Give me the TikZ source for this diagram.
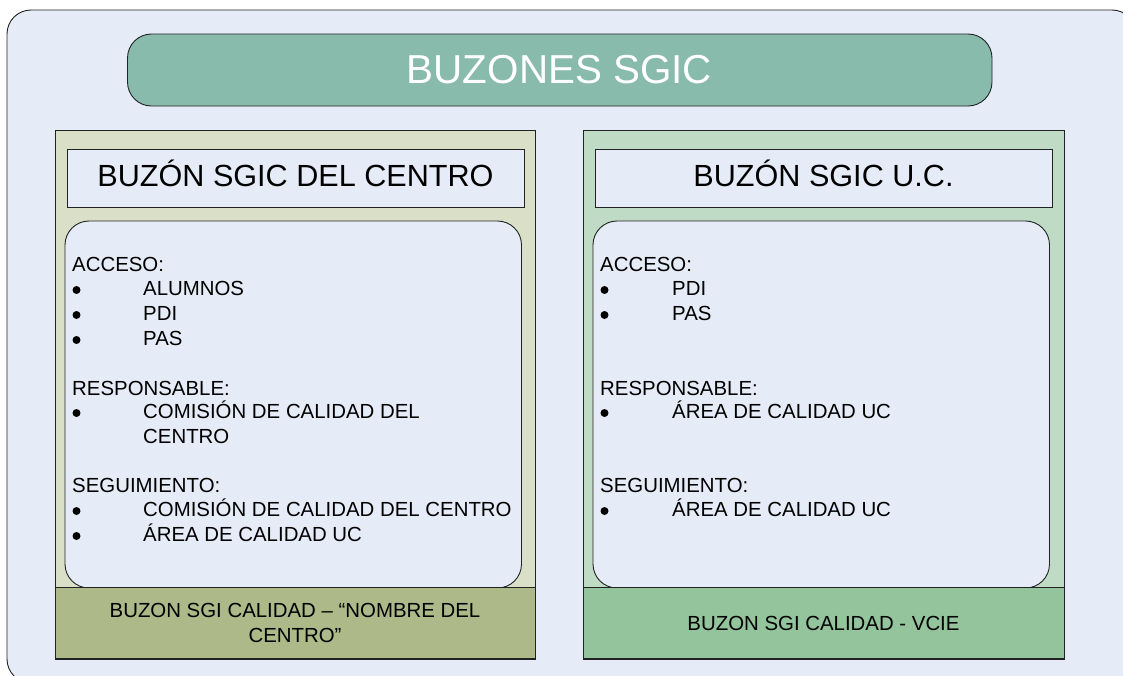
\documentclass[tikz,border=0pt]{standalone}
\usepackage{fontspec}
\setmainfont{Liberation Sans}
\definecolor{pagebg}{HTML}{E6ECF7}
\definecolor{titlefill}{HTML}{89BBAD}
\definecolor{panelL}{HTML}{DADFC7}
\definecolor{panelR}{HTML}{C0DBC5}
\definecolor{footL}{HTML}{ADB988}
\definecolor{footR}{HTML}{94C49C}
\definecolor{edge}{HTML}{222222}
\tikzset{
  x=1pt,y=-1pt,
  shape box/.style={draw=edge,line width=0.9pt},
  head box/.style={shape box,fill=pagebg,minimum width=457,minimum height=58,inner sep=0pt,text height=16pt,text depth=0pt,font=\fontsize{30.6}{34}\selectfont},
  body/.style={anchor=base west,inner sep=0pt,font=\fontsize{20.4}{24}\selectfont,text=black},
  mark dot/.style={circle,fill=black,inner sep=0pt,minimum size=8pt},
}
\begin{document}
\begin{tikzpicture}
\useasboundingbox (0,0) rectangle (1123,675);
\begin{scope}
\clip (0,0) rectangle (1123,675);
\fill[white] (0,0) rectangle (1123,675);
\draw[shape box,fill=pagebg,rounded corners=24] (7,10) rectangle (1136,683);
\end{scope}
\draw[shape box,fill=titlefill,rounded corners=24] (127.5,34) rectangle (992,106);
\node[font=\fontsize{40.4}{44}\selectfont,text=white] (title) at (559.5,70) {BUZONES SGIC};
% left panel
\draw[shape box,fill=panelL] (55,130) rectangle (535,659);
\node[head box] (hL) at (295.5,178) {BUZÓN SGIC DEL CENTRO};
\draw[shape box,fill=pagebg,rounded corners=24] (65,221) rectangle (521.5,588);
\node[shape box,fill=footL,minimum width=480,minimum height=71.5,inner sep=0pt,align=center,font=\fontsize{20.4}{24.5}\selectfont] (fL) at (295,623) {BUZON SGI CALIDAD – “NOMBRE DEL\\CENTRO”};
% right panel
\draw[shape box,fill=panelR] (583,130) rectangle (1064,659);
\node[head box] (hR) at (823.5,178) {BUZÓN SGIC U.C.};
\draw[shape box,fill=pagebg,rounded corners=24] (593,221) rectangle (1049.5,588);
\node[shape box,fill=footR,minimum width=481,minimum height=71.5,inner sep=0pt,font=\fontsize{20.4}{24.5}\selectfont] (fR) at (823.5,623) {BUZON SGI CALIDAD - VCIE};
% left text
\node[body] (la) at (72,271) {ACCESO:};
\node[mark dot] (lb1) at (76.5,290) {};
\node[body] (li1) at (143,295) {ALUMNOS};
\node[mark dot] (lb2) at (76.5,315) {};
\node[body] (li2) at (143,320) {PDI};
\node[mark dot] (lb3) at (76.5,340) {};
\node[body] (li3) at (143,345) {PAS};
\node[body] (lr) at (72,395) {RESPONSABLE:};
\node[mark dot] (lb4) at (76.5,413) {};
\node[body] (li4) at (143,418) {COMISIÓN DE CALIDAD DEL};
\node[body] (li5) at (143,443) {CENTRO};
\node[body] (ls) at (72,492) {SEGUIMIENTO:};
\node[mark dot] (lb5) at (76.5,511) {};
\node[body] (li6) at (143,516) {COMISIÓN DE CALIDAD DEL CENTRO};
\node[mark dot] (lb6) at (76.5,536) {};
\node[body] (li7) at (143,541) {ÁREA DE CALIDAD UC};
% right text
\node[body] (ra) at (600,271) {ACCESO:};
\node[mark dot] (rb1) at (604.5,290) {};
\node[body] (ri1) at (672,295) {PDI};
\node[mark dot] (rb2) at (604.5,315) {};
\node[body] (ri2) at (672,320) {PAS};
\node[body] (rr) at (600,395) {RESPONSABLE:};
\node[mark dot] (rb3) at (604.5,413) {};
\node[body] (ri3) at (672,418) {ÁREA DE CALIDAD UC};
\node[body] (rs) at (600,492) {SEGUIMIENTO:};
\node[mark dot] (rb4) at (604.5,511) {};
\node[body] (ri4) at (672,516) {ÁREA DE CALIDAD UC};
\end{tikzpicture}
\end{document}
